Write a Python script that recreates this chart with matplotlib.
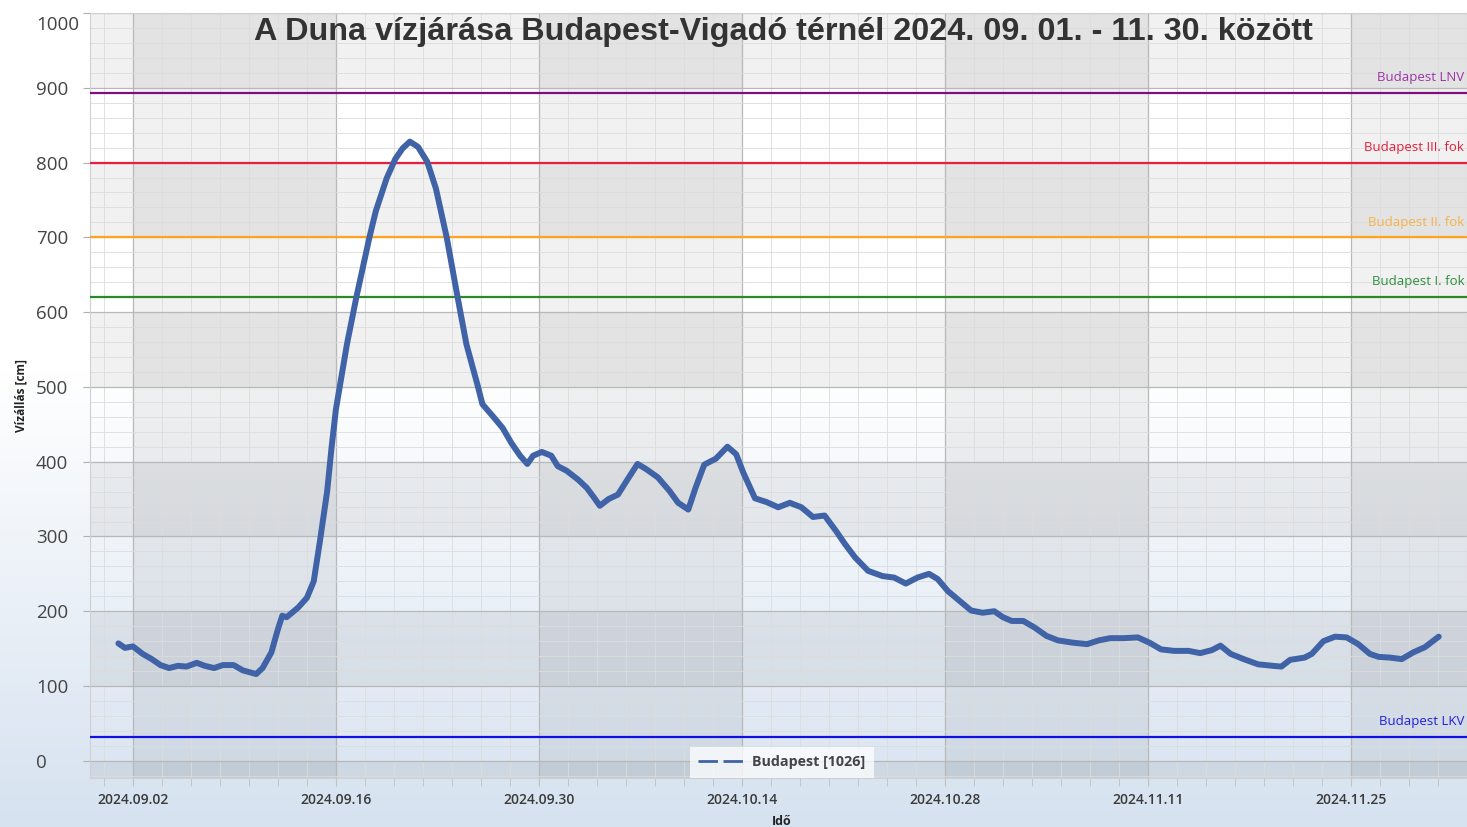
import numpy as np
import pandas as pd
import matplotlib
matplotlib.use("Agg")
import matplotlib.pyplot as plt
import matplotlib.dates as mdates
from matplotlib.lines import Line2D
from matplotlib.colors import LinearSegmentedColormap

# ---------------- data ----------------
start_date = "2024-09-01"
day_offset = [0.0, 0.45, 1.0, 1.67, 2.3, 2.9, 3.5, 4.1, 4.7, 5.4, 5.96, 6.6, 7.2, 7.95,
              8.57, 9.5, 9.94, 10.55, 11.0, 11.3, 11.6, 12.4, 13.0, 13.47, 13.9, 14.4,
              14.7, 15.0, 15.76, 16.4, 17.3, 17.75, 18.5, 19.1, 19.6, 20.1, 20.66, 21.3,
              21.9, 22.65, 23.4, 24.0, 24.8, 25.1, 25.9, 26.5, 27.1, 27.7, 28.2, 28.6,
              29.2, 29.85, 30.3, 30.9, 31.7, 32.3, 32.8, 33.2, 33.8, 34.45, 35.2, 35.8,
              36.4, 37.2, 38.0, 38.6, 39.3, 39.8, 40.4, 41.2, 42.0, 42.6, 43.1, 43.9,
              44.7, 45.5, 46.3, 47.1, 47.9, 48.7, 49.5, 50.1, 50.8, 51.7, 52.7, 53.5,
              54.3, 55.1, 55.9, 56.5, 57.2, 58.0, 58.8, 59.6, 60.4, 61.0, 61.6, 62.4,
              63.2, 64.0, 64.8, 65.8, 66.8, 67.6, 68.4, 69.3, 70.3, 71.1, 71.9, 72.8,
              73.8, 74.6, 75.4, 76.0, 76.7, 77.6, 78.6, 79.6, 80.2, 80.8, 81.8, 82.3,
              83.1, 83.9, 84.7, 85.5, 86.3, 86.9, 87.7, 88.5, 89.3, 90.1, 91.05]
water_level = [157, 151, 153, 143, 136, 128, 124, 127, 126, 131, 127, 124, 128, 128,
               121, 116, 124, 145, 176, 194, 192, 205, 218, 240, 294, 361,
               419, 470, 557, 619, 699, 735, 779, 805, 819, 828, 821, 801,
               765, 699, 619, 557, 500, 477, 459, 445, 425, 408, 397, 408,
               413, 408, 394, 388, 376, 365, 352, 341, 350, 356, 379, 397,
               390, 379, 361, 345, 336, 365, 396, 404, 420, 410, 385, 351,
               346, 339, 345, 339, 326, 328, 307, 290, 272, 254, 247, 245,
               237, 245, 250, 243, 227, 214, 201, 198, 200, 192, 187, 187,
               178, 167, 161, 158, 156, 161, 164, 164, 165, 158, 149, 147,
               147, 144, 148, 154, 143, 136, 129, 127, 126, 135, 138, 143,
               160, 166, 165, 156, 143, 139, 138, 136, 145, 152, 166]

series_name = "Budapest [1026]"

ref_names = ["Budapest LNV", "Budapest III. fok", "Budapest II. fok", "Budapest I. fok", "Budapest LKV"]
ref_levels = [893, 800, 700, 620, 32]
ref_line_colors = ["#7f0f7f", "#e8203f", "#ffa41c", "#2a8a2a", "#1010e0"]
ref_text_colors = ["#9b35a5", "#e3203c", "#f6b24a", "#2f8f3c", "#2020dd"]

x_tick_dates = ["2024-09-02", "2024-09-16", "2024-09-30", "2024-10-14",
                "2024-10-28", "2024-11-11", "2024-11-25"]
y_ticks = [0, 100, 200, 300, 400, 500, 600, 700, 800, 900, 1000]

title = "A Duna vízjárása Budapest-Vigadó térnél 2024. 09. 01. - 11. 30. között"
ylabel = "Vízállás [cm]"
xlabel = "Idő"

# ---------------- figure ----------------
W, H = 1467, 827
fig = plt.figure(figsize=(W / 100, H / 100), dpi=100)

# background gradient (white top -> light blue bottom)
bg = fig.add_axes([0, 0, 1, 1], zorder=-10)
bg.set_axis_off()
cmap = LinearSegmentedColormap.from_list("bg", [(0.0, "#d6e2f0"), (0.55, "#ffffff"), (1.0, "#ffffff")])
grad = np.linspace(0, 1, 256).reshape(-1, 1)
bg.imshow(grad, aspect="auto", cmap=cmap, origin="lower", extent=[0, 1, 0, 1])

left, right = 90 / W, 1.0
bottom, top = 1 - 778 / H, 1 - 13 / H
ax = fig.add_axes([left, bottom, right - left, top - bottom])
ax.set_facecolor("none")

base = pd.Timestamp(start_date)
times = [base + pd.Timedelta(days=d) for d in day_offset]

xmin = pd.Timestamp("2024-08-30 01:00")
xmax = pd.Timestamp("2024-12-02 11:30")
ax.set_xlim(xmin, xmax)
ax.set_ylim(-23, 1000)

# interlaced strips
for lo in [-100, 100, 300, 500, 700, 900]:
    ax.axhspan(lo, lo + 100, color="black", alpha=0.055, lw=0, zorder=0)
tick_ts = [pd.Timestamp(t) for t in x_tick_dates]
for i in range(0, len(tick_ts), 2):
    a = tick_ts[i]
    b = tick_ts[i + 1] if i + 1 < len(tick_ts) else tick_ts[i] + pd.Timedelta(days=14)
    ax.axvspan(a, b, color="black", alpha=0.055, lw=0, zorder=0)

# grid
ax.set_yticks(y_ticks)
ax.yaxis.set_minor_locator(matplotlib.ticker.MultipleLocator(20))
ax.set_xticks(tick_ts)
minor_days = pd.date_range("2024-08-31", "2024-12-03", freq="2D")
ax.set_xticks(minor_days, minor=True)
ax.grid(which="major", color="#b8b8b8", lw=0.9, zorder=1)
ax.grid(which="minor", color="#dcdcdc", lw=0.6, zorder=1)
ax.set_axisbelow(True)

# reference lines
for name, lvl, lc, tc in zip(ref_names, ref_levels, ref_line_colors, ref_text_colors):
    ax.axhline(lvl, color=lc, lw=1.6, zorder=3)
    ax.annotate(name, xy=(1.0, lvl), xycoords=("axes fraction", "data"),
                xytext=(-2, 11), textcoords="offset points", ha="right", va="center",
                fontsize=9.5, color=tc, family="Open Sans", annotation_clip=False)

# series
ax.plot(times, water_level, color="#3f63a6", lw=4.3, solid_joinstyle="round",
        solid_capstyle="round", zorder=5)

# axes formatting
ax.xaxis.set_major_formatter(mdates.DateFormatter("%Y.%m.%d"))
for s in ax.spines.values():
    s.set_color("#d0d0d0")
    s.set_linewidth(0.8)
ax.tick_params(axis="x", which="both", length=6, color="#c0c0c0", pad=5,
               labelsize=10, labelcolor="#3a3a3a")
ax.tick_params(axis="y", which="major", length=5, color="#b0b0b0", labelsize=13.5,
               labelcolor="#444444", pad=34)
ax.tick_params(axis="y", which="minor", length=0)
for lab in ax.get_xticklabels():
    lab.set_family("Open Sans")
    lab.set_fontweight("semibold")
ax.yaxis.set_major_formatter(matplotlib.ticker.FuncFormatter(
    lambda v, p: "" if v >= 1000 else f"{int(v)}"))
for lab in ax.get_yticklabels():
    lab.set_family("Open Sans")
    lab.set_horizontalalignment("left")
# top label shifted inside the figure like the original
ax.annotate("1000", xy=(0, 1000), xycoords=("axes fraction", "data"),
            xytext=(-39, -9), textcoords="offset points", ha="left", va="center",
            fontsize=13.5, color="#444444", family="Open Sans", annotation_clip=False)

ax.set_ylabel(ylabel, fontsize=8.5, fontweight="bold", color="#222222",
              family="Open Sans", labelpad=0)
ax.yaxis.set_label_coords(-0.0455, 0.5)
ax.set_xlabel(xlabel, fontsize=9, fontweight="bold", color="#222222",
              family="Open Sans")
ax.xaxis.set_label_coords(0.5025, -0.048)

ax.set_title(title, fontsize=23.3, fontweight="bold", color="#333333",
             family="Liberation Sans", pad=0, va="center", x=0.5035, y=0.975)

handle = Line2D([], [], color="#3f63a6", lw=2, dashes=(7, 2))
leg = ax.legend([handle], [series_name], loc="lower center", bbox_to_anchor=(0.5025, 0.0),
                borderaxespad=0, frameon=True, fancybox=False, handlelength=3.2,
                prop={"family": "Open Sans", "weight": "bold", "size": 10.3},
                borderpad=0.6, handletextpad=0.6)
leg.get_frame().set_facecolor("white")
leg.get_frame().set_alpha(0.75)
leg.get_frame().set_edgecolor("none")
for t in leg.get_texts():
    t.set_color("#444444")

fig.savefig("out.png", dpi=100)
